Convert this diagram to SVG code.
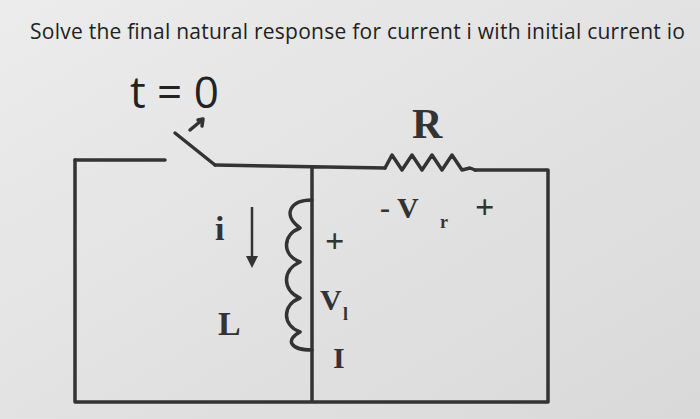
<svg xmlns="http://www.w3.org/2000/svg" width="700" height="419" viewBox="0 0 700 419">
<defs>
<linearGradient id="bg" x1="0" y1="0" x2="1" y2="1"><stop offset="0" stop-color="#ececec"/><stop offset="1" stop-color="#d9d9d9"/></linearGradient>
</defs>
<style>
.w{fill:none;stroke:#333;stroke-width:3.5;stroke-linecap:round;stroke-linejoin:round}
.t{font-family:"Open Sans",sans-serif;fill:#222}
.s{font-family:"Liberation Serif",serif;fill:#333;font-weight:bold}
</style>
<rect width="700" height="419" fill="url(#bg)"/>
<text class="t" x="30" y="39" font-size="21" textLength="655">Solve the final  natural response for current i with initial current io</text>
<g id="switch">
<text class="t" x="130" y="108" font-size="44" fill="#333">t = 0</text>
<path class="w" d="M75,160 L165,160 M215,165 L175,133"/>
<path class="w" d="M190,130 L202,120 M198,120 L203,119 L202,126" stroke-width="3"/>
</g>
<g id="connectors">
<path class="w" d="M75,160 L75,402 L548,402 L548,170 L475,170 M215,165 L385,168 M312,168 L312,402"/>
</g>
<g id="resistor">
<path class="w" d="M385,168 L392,155 L402,170 L412,155 L422,170 L432,155 L442,170 L452,155 L462,170 L470,168 L475,170" stroke-width="3"/>
<text class="s" x="412" y="138" font-size="42">R</text>
<text class="s" x="380" y="218" font-size="30">- V</text>
<text class="s" x="440" y="228" font-size="18">r</text>
<text class="s" x="475" y="218" font-size="34">+</text>
</g>
<g id="inductor">
<path class="w" d="M312,200 C290,200 282,215 300,228 C282,235 282,255 300,262 C282,270 282,290 300,298 C282,305 282,325 300,332 C285,340 290,350 312,350" stroke-width="3"/>
<text class="s" x="325" y="252" font-size="34">+</text>
<text class="s" x="320" y="310" font-size="30">V</text>
<text class="s" x="343" y="320" font-size="18">l</text>
<text class="s" x="333" y="368" font-size="30">I</text>
<text class="s" x="215" y="240" font-size="34">i</text>
<text class="s" x="218" y="335" font-size="34">L</text>
<path d="M252,207 L252,258" stroke="#333" stroke-width="2.5"/>
<path d="M246,256 L258,256 L252,268 z" fill="#333"/>
</g>
</svg>
